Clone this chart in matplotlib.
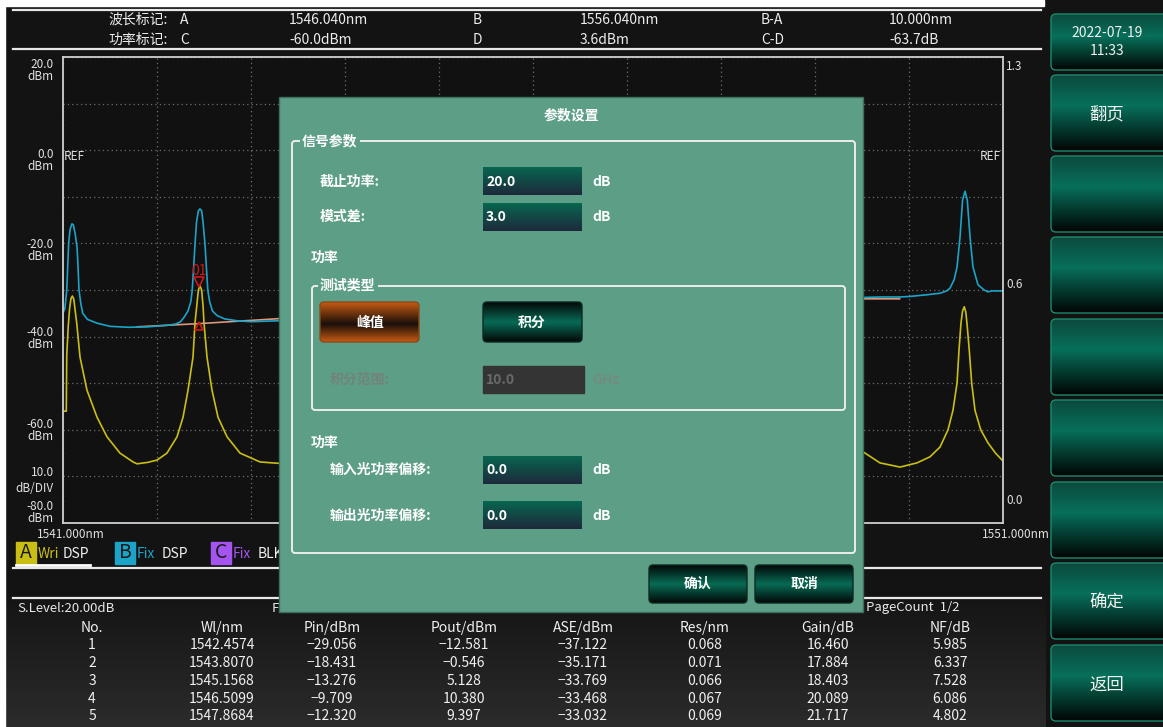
import numpy as np
import matplotlib
matplotlib.use('Agg')
import matplotlib.pyplot as plt
from matplotlib.patches import Rectangle, FancyBboxPatch
from matplotlib.colors import to_rgb

plt.rcParams['font.family'] = ['Noto Sans CJK SC', 'DejaVu Sans']

W, H = 1163, 727

# ---- data ----
# trace A (yellow, Wri DSP), visible parts left / right of the dialog
a_left_nm = [1541.000, 1541.035, 1541.040, 1541.055, 1541.070, 1541.085, 1541.100, 1541.115,
             1541.130, 1541.146, 1541.181, 1541.255, 1541.362, 1541.468, 1541.606, 1541.745,
             1541.787, 1541.900, 1542.000, 1542.106, 1542.213, 1542.277, 1542.330, 1542.383,
             1542.404, 1542.425, 1542.440, 1542.457, 1542.475, 1542.490, 1542.500, 1542.532,
             1542.585, 1542.649, 1542.745, 1542.883, 1543.096, 1543.298, 1543.500]
a_left_dbm = [-56.0, -56.0, -44.0, -38.0, -34.0, -31.8, -31.3, -32.0,
              -34.5, -37.1, -44.4, -51.5, -57.3, -61.5, -65.0, -66.9,
              -67.3, -67.0, -66.5, -65.0, -61.5, -57.3, -51.5, -44.4,
              -37.1, -33.0, -30.0, -29.1, -30.0, -33.5, -37.1, -44.4,
              -51.5, -57.3, -61.5, -65.0, -66.9, -67.2, -67.0]
a_right_nm = [1549.300, 1549.479, 1549.691, 1549.904, 1550.085, 1550.223, 1550.330, 1550.415,
              1550.468, 1550.511, 1550.532, 1550.553, 1550.570, 1550.588, 1550.605, 1550.620,
              1550.641, 1550.667, 1550.702, 1550.763, 1550.840, 1550.920, 1551.000]
a_right_dbm = [-61.5, -64.3, -67.1, -68.0, -67.1, -65.8, -63.7, -60.0,
               -55.8, -50.0, -42.9, -37.1, -34.5, -33.6, -34.8, -37.9,
               -42.9, -50.0, -55.8, -60.0, -62.8, -65.0, -66.7]

# trace B (cyan, Fix DSP)
b_left_nm = [1541.00, 1541.02, 1541.04, 1541.05, 1541.06, 1541.075, 1541.095, 1541.11,
             1541.13, 1541.15, 1541.16, 1541.17, 1541.19, 1541.21, 1541.26, 1541.36,
             1541.50, 1541.70, 1541.90, 1542.10, 1542.20, 1542.25, 1542.29, 1542.33,
             1542.36, 1542.375, 1542.39, 1542.405, 1542.42, 1542.44, 1542.457, 1542.475,
             1542.49, 1542.51, 1542.525, 1542.54, 1542.56, 1542.59, 1542.64, 1542.72,
             1542.85, 1543.00, 1543.30, 1543.60]
b_left_dbm = [-34.9, -34.0, -30.0, -25.0, -20.0, -17.0, -15.8, -16.0,
              -18.0, -21.0, -25.0, -30.0, -33.0, -35.0, -36.3, -37.1,
              -37.8, -38.0, -37.9, -37.6, -37.3, -36.8, -35.8, -34.5,
              -32.5, -30.0, -25.0, -20.0, -15.5, -13.0, -12.6, -13.0,
              -15.5, -20.0, -25.0, -30.0, -32.5, -34.5, -35.5, -36.2,
              -36.6, -36.8, -36.6, -36.3]
b_right_nm = [1549.30, 1549.50, 1549.70, 1549.90, 1550.00, 1550.20, 1550.33, 1550.40,
              1550.436, 1550.48, 1550.511, 1550.543, 1550.57, 1550.596, 1550.62, 1550.649,
              1550.681, 1550.734, 1550.80, 1550.84, 1550.88, 1551.00]
b_right_dbm = [-31.7, -31.6, -31.5, -31.5, -31.4, -31.0, -30.7, -30.2,
               -29.6, -27.8, -25.1, -18.6, -10.7, -8.8, -10.7, -18.6,
               -25.1, -28.9, -30.0, -30.4, -30.2, -30.2]

# ASE interpolation line
ase_nm = [1541.79, 1542.46, 1543.41, 1549.48, 1549.90]
ase_dbm = [-37.9, -37.2, -36.0, -31.9, -31.9]

# header markers
hdr_row1 = ['波长标记:', 'A', '1546.040nm', 'B', '1556.040nm', 'B-A', '10.000nm']
hdr_row2 = ['功率标记:', 'C', '-60.0dBm', 'D', '3.6dBm', 'C-D', '-63.7dB']

# results table
tbl_cols = ['No.', 'Wl/nm', 'Pin/dBm', 'Pout/dBm', 'ASE/dBm', 'Res/nm', 'Gain/dB', 'NF/dB']
no = [1, 2, 3, 4, 5]
wl = [1542.4574, 1543.8070, 1545.1568, 1546.5099, 1547.8684]
pin = [-29.056, -18.431, -13.276, -9.709, -12.320]
pout = [-12.581, -0.546, 5.128, 10.380, 9.397]
ase = [-37.122, -35.171, -33.769, -33.468, -33.032]
res = [0.068, 0.071, 0.066, 0.067, 0.069]
gain = [16.460, 17.884, 18.403, 20.089, 21.717]
nf = [5.985, 6.337, 7.528, 6.086, 4.802]

left_levels = [20.0, 0.0, -20.0, -40.0, -60.0]
right_levels = ['1.3', '0.6', '0.0']
side_buttons = ['翻页', '', '', '', '', '', '确定', '返回']

YEL = '#c9bf14'
CYAN = '#1ba4c8'
PURP = '#a455f0'
RED = '#d01818'
DLG = '#5d9e86'

# gradient stops
STOP_SIDE = [(0, '#0c4a3c'), (0.4, '#07705a'), (1, '#010504')]
STOP_MID = [(0, '#030807'), (0.5, '#086b55'), (1, '#030807')]
STOP_ORANGE = [(0, '#c55a12'), (0.55, '#1a0f0a'), (1, '#c55a12')]
STOP_FIELD = [(0, '#08664f'), (1, '#1e2a3c')]


def grad_box(axis, x0, y0, x1, y1, stops, edge='none', r=4, z=2):
    pos = [s[0] for s in stops]
    cols = np.array([to_rgb(s[1]) for s in stops])
    tt = np.linspace(0, 1, 80)
    img = np.stack([np.interp(tt, pos, cols[:, k]) for k in range(3)], axis=-1)[:, None, :]
    im = axis.imshow(img, extent=(x0, x1, y1, y0), aspect='auto',
                     interpolation='bilinear', zorder=z)
    box = FancyBboxPatch((x0, y0), x1 - x0, y1 - y0,
                         boxstyle=f'round,pad=0,rounding_size={r}',
                         fc='none', ec=edge, lw=1, zorder=z + 0.1)
    axis.add_patch(box)
    im.set_clip_path(box)


def txt(axis, x, y, s, size=10, color='white', ha='left', weight='normal', **kw):
    axis.text(x, y, s, fontsize=size, color=color, ha=ha, va='center',
              fontweight=weight, **kw)


fig = plt.figure(figsize=(W / 100, H / 100), dpi=100)
fig.patch.set_facecolor('#131313')

# ---- background layer ----
bg = fig.add_axes([0, 0, 1, 1], zorder=0)
bg.axis('off')
bg.add_patch(Rectangle((0, 0), W, H, color='#131313'))
grad_box(bg, 0, 598, 1046, H, [(0, '#151515'), (1, '#2b2b2b')], r=0, z=1)
bg.add_patch(Rectangle((0, 0), 5, H, color='white', zorder=3))
bg.add_patch(Rectangle((0, 0), 1044, 6, color='white', zorder=3))

# header
for yy in (9.5, 48.5, 568, 598):
    bg.plot([13, 1041], [yy, yy], color='#e8e8e8', lw=1.6, zorder=3)
hdr_x = [108, 180, 289, 473, 580, 761, 889]
for xx, s1, s2 in zip(hdr_x, hdr_row1, hdr_row2):
    txt(bg, xx, 20, s1, 10, '#ececec')
    txt(bg, xx, 40, s2, 10, '#ececec')

# axis labels around the trace window
lvl_y = [65, 155, 244, 333, 424]
for v, yy in zip(left_levels, lvl_y):
    txt(bg, 54, yy, f'{v:.1f}', 8.5, '#e0e0e0', 'right')
    txt(bg, 54, yy + 12, 'dBm', 8.5, '#e0e0e0', 'right')
txt(bg, 54, 472, '10.0', 8.5, '#e0e0e0', 'right')
txt(bg, 54, 488, 'dB/DIV', 8.5, '#e0e0e0', 'right')
txt(bg, 54, 506, '-80.0', 8.5, '#e0e0e0', 'right')
txt(bg, 54, 518, 'dBm', 8.5, '#e0e0e0', 'right')
for s, yy in zip(right_levels, [66, 284, 501]):
    txt(bg, 1006, yy, s, 8.5, '#e0e0e0')
txt(bg, 37, 534, '1541.000nm', 8.5, '#e0e0e0')
txt(bg, 982, 534, '1551.000nm', 8.5, '#e0e0e0')

# legend
for x0, col, letter, mode in [(16, YEL, 'A', 'Wri'), (115, CYAN, 'B', 'Fix'), (211, PURP, 'C', 'Fix')]:
    bg.add_patch(Rectangle((x0, 542), 20, 22, color=col, zorder=3))
    txt(bg, x0 + 10, 552, letter, 14, '#1a1a1a', 'center', zorder=4)
    txt(bg, x0 + 22, 554, mode, 10, col)
    txt(bg, x0 + 47, 554, 'DSP' if letter != 'C' else 'BLK', 10, '#f0f0f0')
bg.plot([16, 90], [565, 565], color='white', lw=2, zorder=4)

# table
txt(bg, 17, 608, 'S.Level:20.00dB', 9.5, '#e8e8e8')
txt(bg, 272, 608, 'F', 9.5, '#e8e8e8')
txt(bg, 866, 608, 'PageCount  1/2', 9.5, '#e8e8e8')
col_x = [92, 222, 332, 464, 583, 705, 828, 950]
for xx, c in zip(col_x, tbl_cols):
    txt(bg, xx, 628, c, 10, '#f0f0f0', 'center')
row_y = [645, 663, 681, 699, 716]
fmt = lambda v, d: f'{v:.{d}f}'.replace('-', '\u2212')
for i, yy in enumerate(row_y):
    vals = [str(no[i]), fmt(wl[i], 4), fmt(pin[i], 3), fmt(pout[i], 3),
            fmt(ase[i], 3), fmt(res[i], 3), fmt(gain[i], 3), fmt(nf[i], 3)]
    for xx, s in zip(col_x, vals):
        txt(bg, xx, yy, s, 10, '#f0f0f0', 'center')

# right button column
grad_box(bg, 1051, 14, 1170, 70, STOP_SIDE, edge='#1b8a6e', r=5, z=3)
txt(bg, 1107, 33, '2022-07-19', 10, '#f0f0f0', 'center', zorder=5)
txt(bg, 1107, 51, '11:33', 10, '#f0f0f0', 'center', zorder=5)
btn_top = [75, 156, 237, 319, 400, 482, 563, 645]
for yy, lab in zip(btn_top, side_buttons):
    grad_box(bg, 1051, yy, 1170, yy + 76, STOP_SIDE, edge='#1b8a6e', r=5, z=3)
    if lab:
        txt(bg, 1107, yy + 40, lab, 12.5, '#f4f4f4', 'center', zorder=5)
bg.set_xlim(0, W)
bg.set_ylim(H, 0)

# ---- trace window ----
ax = fig.add_axes([63 / W, 1 - 523 / H, 940 / W, 466 / H], zorder=1)
ax.set_facecolor('#111111')
ax.plot(a_left_nm, a_left_dbm, color=YEL, lw=1.2)
ax.plot(a_right_nm, a_right_dbm, color=YEL, lw=1.2)
ax.plot(ase_nm, ase_dbm, color='#d9987c', lw=1.2)
ax.plot(b_left_nm, b_left_dbm, color=CYAN, lw=1.2)
ax.plot(b_right_nm, b_right_dbm, color=CYAN, lw=1.2)
ax.plot([1542.452], [-28.3], marker='v', ms=7, mfc='none', mec=RED, mew=1.2)
ax.plot([1542.447], [-37.7], marker='^', ms=6, mfc='none', mec=RED, mew=1.2)
ax.text(1542.452, -26.0, '01', color=RED, fontsize=10, ha='center', va='center')
ax.text(1541.01, 0, 'REF', color='#e0e0e0', fontsize=8.5, va='top')
ax.text(1550.98, 0, 'REF', color='#e0e0e0', fontsize=8.5, va='top', ha='right')
ax.set_xlim(1541, 1551)
ax.set_ylim(-80, 20)
ax.set_xticks(np.arange(1541, 1552, 1))
ax.set_yticks(np.arange(-80, 21, 10))
ax.grid(True, color='#6e6e6e', ls=(0, (1, 2.5)), lw=0.9)
ax.tick_params(length=0, labelbottom=False, labelleft=False)
for sp in ax.spines.values():
    sp.set_color('#cfcfcf')
    sp.set_linewidth(1.3)

# ---- dialog layer ----
ov = fig.add_axes([0, 0, 1, 1], zorder=2)
ov.set_facecolor('none')
ov.axis('off')
ov.add_patch(Rectangle((279, 97), 584, 515, fc=DLG, ec='#3e6e5e', lw=1, zorder=1))
txt(ov, 571, 115, '参数设置', 10, 'white', 'center', 'bold')

frame_kw = dict(boxstyle='round,pad=0,rounding_size=3', fc='none', ec='#ececec', lw=1.4, zorder=2)
ov.add_patch(FancyBboxPatch((292, 141), 563, 412, **frame_kw))
ov.add_patch(FancyBboxPatch((312, 286), 533, 124, **frame_kw))
title_bb = dict(fc=DLG, ec='none', pad=1.5)
txt(ov, 302, 141, '信号参数', 10, 'white', weight='bold', bbox=title_bb, zorder=3)
txt(ov, 320, 286, '测试类型', 10, 'white', weight='bold', bbox=title_bb, zorder=3)

fields = [(182, '截止功率:', '20.0', 320, 167), (217, '模式差:', '3.0', 320, 203),
          (470, '输入光功率偏移:', '0.0', 330, 456), (516, '输出光功率偏移:', '0.0', 330, 501)]
for yy, lab, val, lx, top in fields:
    txt(ov, lx, yy, lab, 10, 'white', weight='bold')
    grad_box(ov, 483, top, 582, top + 28, STOP_FIELD, r=0, z=2)
    txt(ov, 486, yy, val, 10, 'white', weight='bold', zorder=4)
    txt(ov, 592, yy, 'dB', 10, 'white', weight='bold')

txt(ov, 311, 258, '功率', 10, 'white', weight='bold')
txt(ov, 311, 443, '功率', 10, 'white', weight='bold')

grad_box(ov, 320, 302, 419, 342, STOP_ORANGE, edge='#8a4a1a', r=4, z=2)
txt(ov, 370, 323, '峰值', 10, 'white', 'center', 'bold', zorder=4)
grad_box(ov, 483, 302, 582, 342, STOP_MID, edge='#0a2a22', r=4, z=2)
txt(ov, 532, 323, '积分', 10, 'white', 'center', 'bold', zorder=4)

txt(ov, 330, 380, '积分范围:', 10, '#72837c', weight='bold')
ov.add_patch(Rectangle((483, 366), 101, 27, color='#343434', zorder=2))
txt(ov, 486, 380, '10.0', 10, '#6a6a6a', weight='bold', zorder=4)
txt(ov, 592, 380, 'GHz', 10, '#728c82', weight='bold')

grad_box(ov, 649, 565, 747, 603, STOP_MID, edge='#0a2a22', r=4, z=2)
txt(ov, 698, 584, '确认', 10, 'white', 'center', 'bold', zorder=4)
grad_box(ov, 755, 565, 853, 603, STOP_MID, edge='#0a2a22', r=4, z=2)
txt(ov, 804, 584, '取消', 10, 'white', 'center', 'bold', zorder=4)
ov.set_xlim(0, W)
ov.set_ylim(H, 0)

fig.savefig('out.png', dpi=100, facecolor=fig.get_facecolor())
